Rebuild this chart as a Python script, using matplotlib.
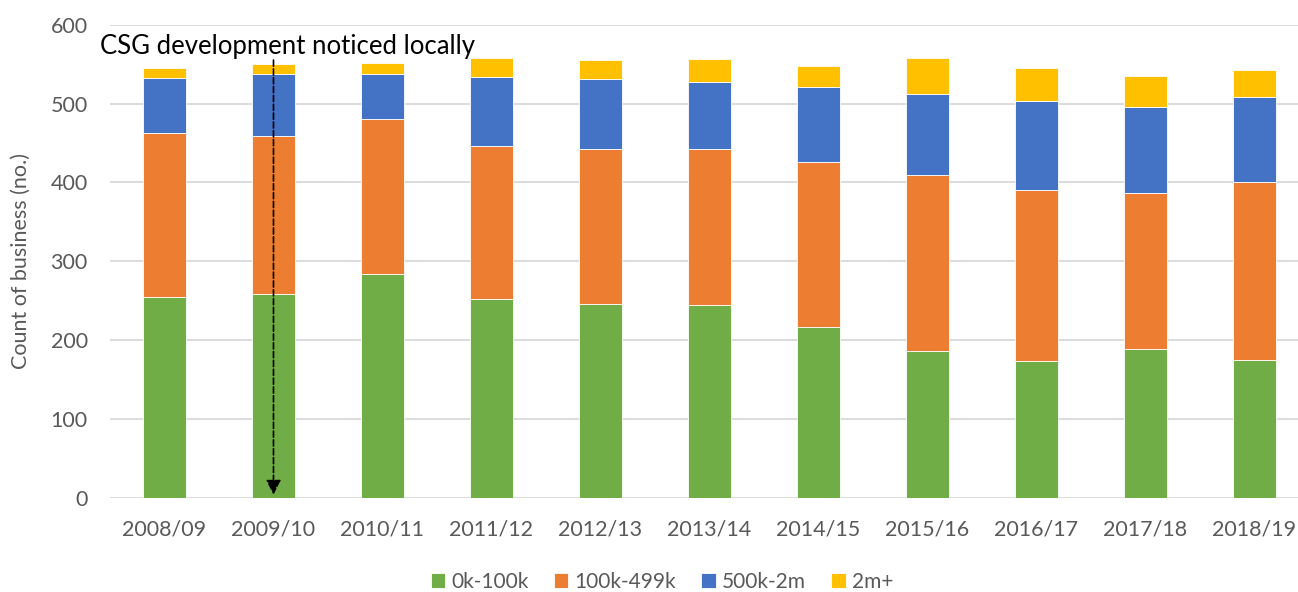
import matplotlib
matplotlib.use("Agg")
import matplotlib.pyplot as plt
import numpy as np

plt.rcParams['font.family'] = ['Lato', 'DejaVu Sans']

years = ['2008/09', '2009/10', '2010/11', '2011/12', '2012/13', '2013/14',
         '2014/15', '2015/16', '2016/17', '2017/18', '2018/19']
band_0_100k = [254, 259, 284, 252, 246, 244, 216, 186, 173, 188, 175]
band_100_499k = [209, 200, 196, 194, 197, 198, 210, 224, 218, 199, 226]
band_500k_2m = [70, 79, 58, 88, 89, 85, 95, 103, 112, 109, 107]
band_2m_plus = [13, 12, 14, 24, 23, 30, 27, 45, 42, 39, 35]

series = [('0k-100k', band_0_100k, '#70AD47'),
          ('100k-499k', band_100_499k, '#ED7D31'),
          ('500k-2m', band_500k_2m, '#4472C4'),
          ('2m+', band_2m_plus, '#FFC000')]

grey = '#595959'

fig = plt.figure(figsize=(12.98, 5.92), dpi=100)
ax = fig.add_axes([110/1298, (592-497.5)/592, (1298-110)/1298, (497.5-25)/592])

x = np.arange(len(years))
bottom = np.zeros(len(years))
handles = []
for name, vals, col in series:
    b = ax.bar(x, vals, 0.4, bottom=bottom, color=col, edgecolor='white',
               linewidth=0.6, label=name, zorder=3)
    handles.append(b)
    bottom += np.array(vals)

ax.set_xlim(-0.5, 10.4)
ax.set_ylim(0, 600)
ax.set_yticks(range(0, 601, 100))
ax.grid(axis='y', color='#d9d9d9', linewidth=1.3, zorder=0)
for s in ax.spines.values():
    s.set_visible(False)
ax.tick_params(length=0, labelsize=15.5, colors=grey)
ax.tick_params(axis='x', pad=16)
ax.tick_params(axis='y', pad=16)
ax.set_xticks(x)
ax.set_xticklabels(years)
ax.set_ylabel('Count of business (no.)', fontsize=15.5, color=grey, labelpad=14)

# CSG annotation arrow
ax.annotate('', xy=(1, 0), xytext=(1, 559),
            arrowprops=dict(arrowstyle='-|>', linestyle='--', color='black',
                            lw=1.2, mutation_scale=22), zorder=5)
ax.text(-0.59, 563, 'CSG development noticed locally', fontsize=18.5,
        color='black', ha='left', va='baseline', zorder=5)

fig.legend(handles=handles, loc='center', bbox_to_anchor=(662/1298, 1-582/592),
           ncol=4, frameon=False, fontsize=15, handlelength=0.7,
           handleheight=0.7, handletextpad=0.3, columnspacing=1.2,
           labelcolor=grey)

fig.savefig('out.png', dpi=100)
